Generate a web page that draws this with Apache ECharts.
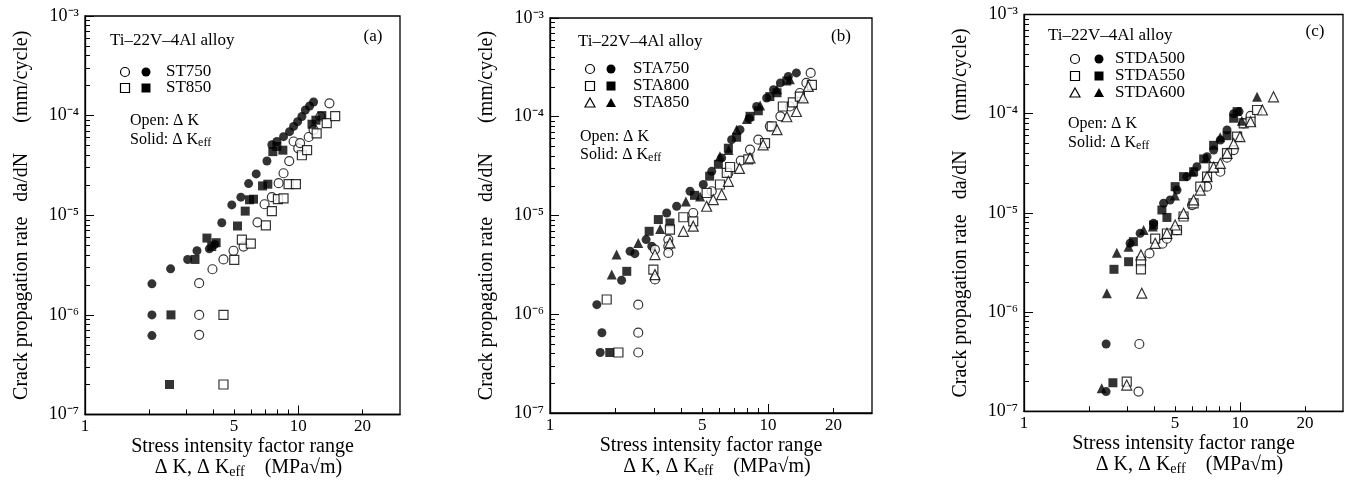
<!DOCTYPE html>
<html>
<head>
<meta charset="utf-8">
<title>Ti-22V-4Al crack propagation</title>
<script src="https://cdn.jsdelivr.net/npm/echarts@6.0.0/dist/echarts.min.js"></script>
<style>
  html, body { margin: 0; padding: 0; background: #fff; }
  #wrap { position: relative; width: 1346px; height: 481px; }
  #chart, #notes { position: absolute; left: 0; top: 0; width: 1346px; height: 481px; }
  #notes { pointer-events: none; }
</style>
</head>
<body>
<div id="wrap">
  <div id="chart"></div>
  <div id="notes"></div>
</div>
<script>
var FONT = "'Liberation Serif', 'Times New Roman', serif";

// panel (a)  [dK (MPa√m), da/dN (mm/cycle)]
var st750Open = [[3.43,2.08e-6],[3.43,1.0e-6],[3.43,6.3e-7],[3.96,2.87e-6],[4.46,3.6e-6],[4.97,4.4e-6],[5.54,4.85e-6],[6.44,8.5e-6],[6.95,1.29e-5],[7.52,1.52e-5],[8.09,2.1e-5],[8.53,2.64e-5],[9.07,3.5e-5],[9.51,5.5e-5],[10.0,4.7e-5],[10.2,5.3e-5],[11.2,6.1e-5],[11.8,7.2e-5],[12.7,9.8e-5],[14.0,1.33e-4]];
var st750Solid = [[2.06,2.05e-6],[2.06,1.0e-6],[2.06,6.2e-7],[2.52,2.9e-6],[3.03,3.6e-6],[3.35,4.4e-6],[3.83,4.6e-6],[4.06,5.1e-6],[4.38,8.4e-6],[4.88,1.27e-5],[5.38,1.52e-5],[5.85,2.08e-5],[6.35,2.6e-5],[7.13,3.5e-5],[7.52,5.1e-5],[7.94,5.5e-5],[8.53,6.15e-5],[9.10,6.9e-5],[9.51,7.8e-5],[9.93,8.7e-5],[10.4,9.8e-5],[10.8,1.14e-4],[11.3,1.25e-4],[11.8,1.37e-4]];
var st850Open = [[4.46,1.0e-6],[4.46,2.0e-7],[5.01,3.56e-6],[5.44,5.7e-6],[5.99,5.2e-6],[7.05,7.9e-6],[7.52,1.1e-5],[8.03,1.45e-5],[8.53,1.48e-5],[9.01,2.05e-5],[9.75,2.05e-5],[10.4,4.0e-5],[11.0,4.5e-5],[12.2,6.65e-5],[13.6,8.4e-5],[14.9,9.9e-5]];
var st850Solid = [[2.49,2.0e-7],[2.53,1.0e-6],[3.28,3.6e-6],[3.73,5.9e-6],[3.93,4.85e-6],[4.12,5.3e-6],[5.19,7.8e-6],[5.64,1.1e-5],[5.91,1.43e-5],[6.17,1.45e-5],[6.80,1.97e-5],[7.20,2.05e-5],[7.60,4.35e-5],[7.94,4.9e-5],[8.47,4.5e-5],[11.6,8.2e-5],[12.1,9.0e-5],[12.9,1.0e-4]];

// panel (b)
var sta750Open = [[2.54,1.25e-6],[2.54,6.5e-7],[2.54,4.1e-7],[3.03,2.25e-6],[3.03,4.52e-6],[3.49,5.7e-6],[3.49,4.88e-6],[3.49,4.18e-6],[4.54,1.06e-5],[5.52,1.76e-5],[6.58,2.7e-5],[7.5,3.6e-5],[8.27,4.65e-5],[9.03,5.86e-5],[10.2,8.0e-5],[11.4,1.01e-4],[12.6,1.27e-4],[14.0,1.74e-4],[15.0,2.2e-4],[15.7,2.78e-4]];
var sta750Solid = [[1.64,1.25e-6],[1.73,6.5e-7],[1.70,4.1e-7],[2.13,2.21e-6],[2.33,4.35e-6],[2.45,4.11e-6],[2.76,5.7e-6],[2.93,4.88e-6],[3.43,1.06e-5],[3.81,1.24e-5],[4.39,1.76e-5],[5.05,2.06e-5],[5.52,2.8e-5],[6.13,3.83e-5],[6.81,5.86e-5],[7.44,7.4e-5],[8.2,9.6e-5],[8.87,1.27e-4],[9.86,1.55e-4],[10.6,1.88e-4],[11.4,2.2e-4],[12.4,2.56e-4],[13.5,2.78e-4]];
var sta800Open = [[1.82,1.41e-6],[2.06,4.1e-7],[2.98,2.83e-6],[3.55,7.2e-6],[4.09,9.6e-6],[4.54,8.7e-6],[5.23,1.69e-5],[6.02,2.06e-5],[6.47,2.7e-5],[6.7,3.1e-5],[8.12,3.7e-5],[9.69,5.4e-5],[10.4,8.0e-5],[11.7,1.27e-4],[13.0,1.4e-4],[14.0,1.6e-4],[15.9,2.1e-4]];
var sta800Solid = [[1.88,4.1e-7],[2.25,2.72e-6],[2.85,6.92e-6],[3.14,9.1e-6],[3.55,8.4e-6],[4.6,1.6e-5],[5.4,2.5e-5],[5.92,3.3e-5],[6.58,4.8e-5],[7.18,6.2e-5],[8.27,1.01e-4],[9.03,1.15e-4],[10.2,1.6e-4],[11.0,1.75e-4],[12.2,2.3e-4]];
var sta850Open = [[3.03,4.02e-6],[3.03,2.52e-6],[3.55,5.28e-6],[4.09,6.92e-6],[4.54,7.8e-6],[5.23,1.24e-5],[5.61,1.45e-5],[6.13,1.63e-5],[6.58,2.22e-5],[7.4,3.0e-5],[8.27,3.83e-5],[9.5,5.2e-5],[11.0,7.4e-5],[12.2,1.0e-4],[13.5,1.13e-4],[14.5,1.55e-4],[15.3,2.03e-4]];
var sta850Solid = [[1.92,2.52e-6],[2.02,4.02e-6],[2.54,5.28e-6],[3.2,7.3e-6],[4.20,1.39e-5],[4.88,1.56e-5],[6.02,3.97e-5],[6.6,4.6e-5],[7.18,7.4e-5],[8.0,9.5e-5],[9.2,1.3e-4],[11.0,1.9e-4],[12.6,2.4e-4]];

// panel (c)
var stda500Open = [[3.39,1.58e-7],[3.42,4.77e-7],[3.81,3.9e-6],[4.37,4.9e-6],[4.59,5.5e-6],[5.11,6.7e-6],[6.0,1.2e-5],[7.04,1.84e-5],[8.11,2.6e-5],[8.71,3.6e-5],[9.35,4.3e-5],[10.4,8.0e-5],[11.2,9.5e-5]];
var stda500Solid = [[2.40,4.77e-7],[2.40,1.58e-7],[3.10,4.94e-6],[3.45,6.22e-6],[3.98,7.85e-6],[4.43,1.25e-5],[4.75,1.35e-5],[5.11,1.70e-5],[5.68,2.32e-5],[6.32,2.92e-5],[7.04,3.69e-5],[7.55,4.31e-5],[8.11,5.43e-5],[8.71,6.85e-5],[9.35,1.0e-4],[9.9,1.05e-4]];
var stda550Open = [[2.99,1.99e-7],[3.48,3.22e-6],[3.48,2.70e-6],[4.05,5.5e-6],[4.59,6.2e-6],[5.11,6.7e-6],[5.48,9.2e-6],[6.10,1.25e-5],[6.55,1.84e-5],[7.04,2.32e-5],[7.55,2.9e-5],[8.71,4.0e-5],[9.70,5.86e-5],[10.4,8.0e-5],[11.2,8.3e-5],[12.0,1.09e-4]];
var stda550Solid = [[2.58,1.94e-7],[2.61,2.70e-6],[3.05,3.22e-6],[3.21,5.13e-6],[3.98,7.55e-6],[4.35,1.07e-5],[4.59,9.0e-6],[5.01,1.84e-5],[5.48,2.32e-5],[6.10,2.6e-5],[6.79,3.5e-5],[7.55,4.8e-5],[8.71,6.0e-5],[9.35,9.0e-5],[9.70,1.05e-4]];
var stda600Open = [[2.99,1.84e-7],[3.51,1.55e-6],[3.48,3.77e-6],[4.05,4.94e-6],[4.59,6.22e-6],[5.01,7.55e-6],[5.48,9.9e-6],[6.10,1.35e-5],[6.55,1.7e-5],[7.04,2.32e-5],[7.55,2.9e-5],[8.11,3.16e-5],[8.71,3.99e-5],[9.35,5.0e-5],[10.0,5.86e-5],[11.2,8.3e-5],[12.7,1.09e-4],[14.3,1.48e-4]];
var stda600Solid = [[2.29,1.71e-7],[2.42,1.55e-6],[2.69,3.97e-6],[3.05,4.56e-6],[3.58,6.73e-6],[3.95,7.3e-6],[5.0,1.5e-5],[6.0,2.6e-5],[7.0,3.6e-5],[8.1,5.8e-5],[10.2,8.5e-5],[12.0,1.48e-4]];

// axis ticks
var xTickLabels = [1, 5, 10, 20];
var xMinorTicks = [2, 3, 4, 5, 6, 7, 8, 9, 20];
var xMajorTicks = [10];
var yTickValues = [1e-7, 1e-6, 1e-5, 1e-4, 1e-3];
var SUP = {3: '³', 4: '⁴', 5: '⁵', 6: '⁶', 7: '⁷'};

// layout of the three panels (pixels)
var panels = [
  { tag: '(a)', grid: {left: 85, right: 946, top: 16, bottom: 66.5}, xTitle: [242.5, 447],
    title: [110, 41], tagPos: [373, 37], note: [130, 121, 140], key: [125, 146, 166, 72], row: 16,
    groups: [['ST750', st750Open, st750Solid, 'circle'], ['ST850', st850Open, st850Solid, 'rect']] },
  { tag: '(b)', grid: {left: 550, right: 474, top: 18, bottom: 68}, xTitle: [711, 446],
    title: [578, 42], tagPos: [841, 37], note: [580, 137, 155], key: [590, 611, 633, 69], row: 17,
    groups: [['STA750', sta750Open, sta750Solid, 'circle'], ['STA800', sta800Open, sta800Solid, 'rect'], ['STA850', sta850Open, sta850Solid, 'triangle']] },
  { tag: '(c)', grid: {left: 1024, right: 3, top: 14.5, bottom: 69.7}, xTitle: [1183.5, 444],
    title: [1048, 36], tagPos: [1315, 32], note: [1068, 124, 143], key: [1075, 1099, 1115, 59], row: 17,
    groups: [['STDA500', stda500Open, stda500Solid, 'circle'], ['STDA550', stda550Open, stda550Solid, 'rect'], ['STDA600', stda600Open, stda600Solid, 'triangle']] }
];

var black = {color: '#000', width: 1.3};
var tickLine = {color: '#000', width: 1};
var grids = [], xAxes = [], yAxes = [], series = [], notes = [];

// key symbol drawn next to the in-plot legend text
function keySymbol(shape, cx, cy, open) {
  var style = open ? {fill: '#fff', stroke: '#000', lineWidth: 1.2} : {fill: '#000'};
  if (shape === 'circle') return {type: 'circle', shape: {cx: cx, cy: cy, r: 4.5}, style: style};
  if (shape === 'rect') return {type: 'rect', shape: {x: cx - 4.5, y: cy - 4.5, width: 9, height: 9}, style: style};
  return {type: 'polygon', shape: {points: [[cx, cy - 5], [cx + 5, cy + 4], [cx - 5, cy + 4]]}, style: style};
}

panels.forEach(function (p, i) {
  grids.push(Object.assign({show: true, borderColor: '#000', borderWidth: 1.3, backgroundColor: 'transparent'}, p.grid));

  // x: the data axis carries the short ticks and labels, a twin draws the long tick at 10
  xAxes.push({type: 'log', gridIndex: i, logBase: 10, min: 1, max: 30, position: 'bottom',
    axisLine: {show: true, onZero: false, lineStyle: black}, splitLine: {show: false},
    axisTick: {show: true, inside: true, length: 5, customValues: xMinorTicks, lineStyle: tickLine},
    axisLabel: {show: true, customValues: xTickLabels, margin: 4, color: '#000', fontFamily: FONT, fontSize: 17}});
  xAxes.push({type: 'log', gridIndex: i, logBase: 10, min: 1, max: 30, position: 'bottom',
    axisLine: {show: false}, splitLine: {show: false}, axisLabel: {show: false},
    axisTick: {show: true, inside: true, length: 9, customValues: xMajorTicks, lineStyle: tickLine}});

  // y
  yAxes.push({type: 'log', gridIndex: i, logBase: 10, min: 1e-7, max: 1e-3, position: 'left',
    axisLine: {show: true, onZero: false, lineStyle: black}, splitLine: {show: false},
    axisTick: {show: true, inside: true, length: 9, customValues: yTickValues, lineStyle: tickLine},
    minorTick: {show: true, splitNumber: 9, length: 5, lineStyle: tickLine},
    axisLabel: {show: true, customValues: yTickValues, margin: 6, color: '#000', fontFamily: FONT, fontSize: 18,
      formatter: function (v) { return '10⁻' + SUP[Math.abs(Math.round(Math.log10(v)))]; }},
    name: 'Crack propagation rate   da/dN      (mm/cycle)', nameLocation: 'middle', nameRotate: 90, nameGap: 53,
    nameTextStyle: {color: '#000', fontFamily: FONT, fontSize: 20}});

  p.groups.forEach(function (g, k) {
    var size = g[3] === 'triangle' ? 10 : 9;
    series.push({type: 'scatter', name: g[0] + ' ΔKeff', xAxisIndex: i * 2, yAxisIndex: i,
      data: g[2], symbol: g[3], symbolSize: size, itemStyle: {color: '#000'}});
    series.push({type: 'scatter', name: g[0] + ' ΔK', xAxisIndex: i * 2, yAxisIndex: i,
      data: g[1], symbol: g[3], symbolSize: size, itemStyle: {color: '#fff', borderColor: '#000', borderWidth: 1.2}});

    var cy = p.key[3] + k * p.row;
    notes.push(keySymbol(g[3], p.key[0], cy, true));
    notes.push(keySymbol(g[3], p.key[1], cy, false));
    notes.push({type: 'text', x: p.key[2], y: cy,
      style: {text: g[0], font: '17px ' + FONT, fill: '#000', align: 'left', verticalAlign: 'middle'}});
  });

  // x axis title (two lines, with subscript)
  notes.push({type: 'text', x: p.xTitle[0], y: p.xTitle[1],
    style: {text: 'Stress intensity factor range', font: '20px ' + FONT, fill: '#000', align: 'center', verticalAlign: 'middle'}});
  notes.push({type: 'text', x: p.xTitle[0] + 6, y: p.xTitle[1] + 21,
    style: {text: '{t|Δ K, Δ K}{u|eff}{t|    (MPa√m)}', align: 'center', verticalAlign: 'middle', rich: {
      t: {fontSize: 20, fontFamily: FONT, fill: '#000', lineHeight: 22},
      u: {fontSize: 14, fontFamily: FONT, fill: '#000', lineHeight: 12, verticalAlign: 'bottom'}
    }}});

  notes.push({type: 'text', x: p.title[0], y: p.title[1],
    style: {text: 'Ti–22V–4Al alloy', font: '17px ' + FONT, fill: '#000', align: 'left', verticalAlign: 'middle'}});
  notes.push({type: 'text', x: p.tagPos[0], y: p.tagPos[1],
    style: {text: p.tag, font: '17px ' + FONT, fill: '#000', align: 'center', verticalAlign: 'middle'}});
  notes.push({type: 'text', x: p.note[0], y: p.note[1],
    style: {text: 'Open: Δ K', font: '16px ' + FONT, fill: '#000', align: 'left', verticalAlign: 'middle'}});
  notes.push({type: 'text', x: p.note[0], y: p.note[2],
    style: {text: '{t|Solid: Δ K}{u|eff}', align: 'left', verticalAlign: 'middle', rich: {
      t: {fontSize: 16, fontFamily: FONT, fill: '#000', lineHeight: 18},
      u: {fontSize: 12, fontFamily: FONT, fill: '#000', lineHeight: 10, verticalAlign: 'bottom'}
    }}});
});

// plots: grids, log axes and scatter series
var chart = echarts.init(document.getElementById('chart'), null, {renderer: 'canvas'});
chart.setOption({
  animation: false,
  grid: grids,
  xAxis: xAxes,
  yAxis: yAxes,
  series: series
});

// in-plot notes, keys and x titles on a transparent layer above
var notesChart = echarts.init(document.getElementById('notes'), null, {renderer: 'canvas'});
notesChart.setOption({
  animation: false,
  graphic: notes
});
</script>
</body>
</html>
